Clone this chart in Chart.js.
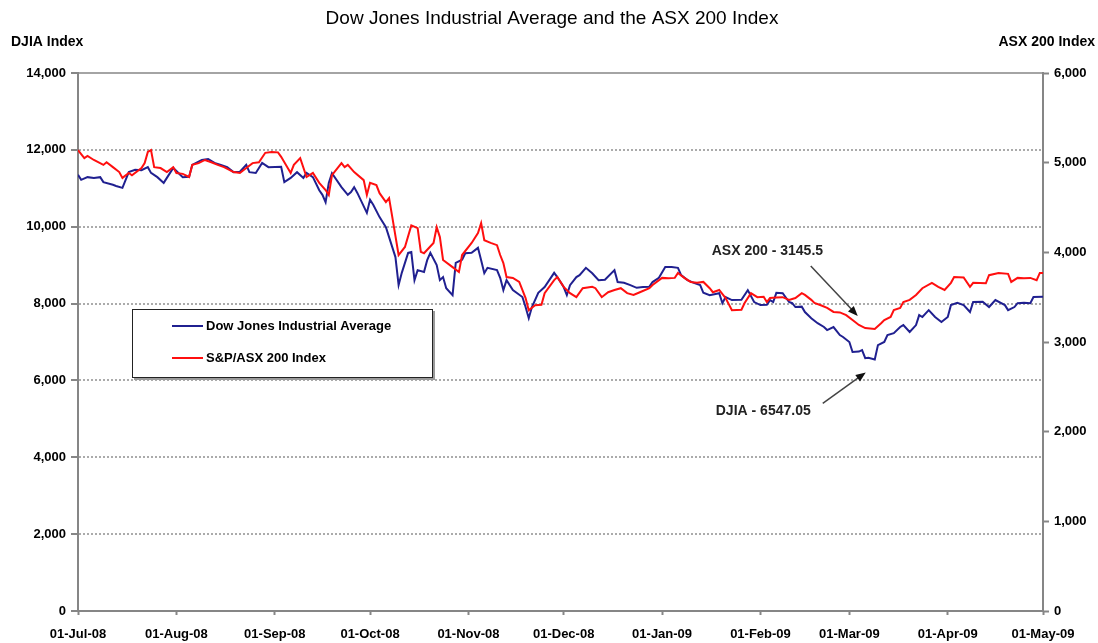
<!DOCTYPE html>
<html>
<head>
<meta charset="utf-8">
<title>Dow Jones Industrial Average and the ASX 200 Index</title>
<script src="https://cdn.jsdelivr.net/npm/chart.js@4.4.1/dist/chart.umd.min.js"></script>
<style>
  html, body { margin: 0; padding: 0; background: #fff; }
  #wrap { width: 1098px; height: 643px; }
</style>
</head>
<body>
<div id="wrap"><canvas id="chart" width="1098" height="643"></canvas></div>
<script>
// x values are days counted from 01-Jul-08
const monthDays = [0, 31, 62, 92, 123, 153, 184, 215, 243, 274, 304];
const monthLabels = ['01-Jul-08', '01-Aug-08', '01-Sep-08', '01-Oct-08', '01-Nov-08', '01-Dec-08',
                     '01-Jan-09', '01-Feb-09', '01-Mar-09', '01-Apr-09', '01-May-09'];

const djiaDays = [
  0, 1, 3, 5, 7, 8, 11, 12, 14, 16,
  18, 20, 22, 23, 25, 27, 30, 33, 35, 36,
  39, 41, 43, 45, 47, 49, 51, 53, 54, 56,
  57, 58, 60, 64, 65, 67, 69, 71, 72, 74,
  76, 77, 78, 79, 80, 83, 85, 86, 87, 88,
  91, 92, 93, 95, 97, 99, 100, 101, 102, 104,
  105, 106, 107, 109, 110, 111, 113, 114, 115, 116,
  118, 119, 121, 122, 124, 126, 127, 128, 129, 132,
  133, 134, 135, 137, 140, 141, 142, 143, 145, 147,
  150, 151, 153, 154, 155, 157, 158, 160, 162, 164,
  166, 169, 170, 172, 174, 176, 178, 180, 181, 183,
  185, 187, 189, 190, 192, 194, 196, 197, 199, 202,
  203, 204, 206, 209, 211, 213, 215, 217, 218, 219,
  220, 222, 224, 225, 226, 228, 229, 231, 233, 235,
  236, 238, 240, 241, 243, 244, 246, 247, 248, 249,
  251, 252, 254, 255, 257, 259, 260, 262, 264, 265,
  266, 268, 270, 272, 274, 275, 277, 279, 281, 282,
  285, 287, 289, 292, 293, 295, 296, 298, 300, 301,
  304
];
const djiaValues = [
  11350, 11220, 11290, 11270, 11290, 11160, 11090, 11060, 11010, 11420,
  11480, 11470, 11550, 11400, 11290, 11140, 11530, 11290, 11300, 11610,
  11740, 11760, 11660, 11610, 11550, 11420, 11430, 11610, 11420, 11400,
  11530, 11660, 11550, 11560, 11160, 11270, 11420, 11270, 11400, 11290,
  10950, 10830, 10640, 11140, 11390, 11030, 10830, 10900, 11030, 10880,
  10360, 10700, 10570, 10250, 9990, 9470, 9210, 8480, 8800, 9320,
  9340, 8610, 8870, 8820, 9130, 9320, 9000, 8610, 8690, 8400,
  8220, 9060, 9140, 9310, 9320, 9450, 9130, 8790, 8930, 8870,
  8670, 8350, 8610, 8350, 8170, 7910, 7620, 7910, 8280, 8430,
  8800, 8690, 8430, 8220, 8480, 8690, 8740, 8930, 8790, 8610,
  8620, 8870, 8560, 8540, 8480, 8410, 8430, 8440, 8560, 8670,
  8950, 8950, 8930, 8740, 8610, 8540, 8480, 8280, 8220, 8270,
  8010, 8170, 8090, 8100, 8350, 8040, 7960, 7970, 8090, 8040,
  8280, 8270, 8040, 8010, 7910, 7920, 7780, 7620, 7490, 7390,
  7310, 7390, 7180, 7130, 7000, 6740, 6750, 6790, 6580, 6590,
  6547.05, 6920, 7000, 7180, 7230, 7390, 7440, 7260, 7440, 7700,
  7650, 7830, 7650, 7520, 7650, 7960, 8020, 7960, 7780, 8040,
  8050, 7910, 8090, 7960, 7830, 7910, 8010, 8020, 8010, 8170,
  8180
];

const asxDays = [
  0, 2, 3, 5, 8, 9, 11, 13, 14, 16,
  17, 20, 21, 22, 23, 24, 26, 28, 30, 31,
  33, 35, 36, 38, 40, 42, 44, 46, 49, 51,
  53, 55, 57, 59, 61, 63, 64, 67, 68, 70,
  72, 74, 76, 78, 79, 80, 83, 84, 85, 87,
  90, 91, 92, 94, 95, 97, 98, 99, 101, 103,
  105, 107, 108, 109, 112, 113, 114, 115, 118, 120,
  121, 124, 126, 127, 128, 130, 132, 133, 134, 135,
  137, 139, 141, 142, 144, 146, 147, 150, 151, 153,
  155, 157, 159, 162, 163, 165, 167, 169, 171, 173,
  175, 177, 180, 181, 184, 186, 188, 189, 191, 193,
  195, 197, 199, 200, 202, 204, 206, 209, 210, 212,
  214, 216, 217, 218, 220, 222, 224, 226, 228, 229,
  231, 232, 234, 236, 238, 240, 242, 244, 246, 248,
  251, 253, 254, 256, 257, 259, 260, 262, 264, 266,
  269, 271, 273, 275, 276, 279, 281, 282, 286, 287,
  290, 293, 294, 296, 298, 300, 302, 303, 304
];
const asxValues = [
  5140, 5050, 5075, 5030, 4975, 5005, 4950, 4895, 4830, 4885,
  4860, 4940, 4995, 5120, 5140, 4950, 4940, 4895, 4950, 4885,
  4875, 4840, 4975, 4995, 5030, 5005, 4975, 4950, 4895, 4885,
  4940, 4995, 5005, 5110, 5120, 5115, 5065, 4885, 4975, 5050,
  4840, 4885, 4775, 4695, 4640, 4860, 4995, 4950, 4975, 4895,
  4805, 4640, 4775, 4750, 4660, 4560, 4605, 4395, 3970, 4060,
  4300, 4270, 4005, 3990, 4105, 4280, 4170, 3915, 3835, 3780,
  3970, 4105, 4215, 4325, 4135, 4105, 4080, 3970, 3880, 3725,
  3715, 3670, 3490, 3355, 3410, 3415, 3545, 3690, 3725, 3615,
  3545, 3500, 3600, 3615, 3600, 3500, 3555, 3580, 3600, 3545,
  3525, 3555, 3600, 3635, 3715, 3710, 3715, 3770, 3715, 3670,
  3660, 3670, 3600, 3555, 3580, 3490, 3355, 3360, 3435, 3545,
  3500, 3505, 3445, 3490, 3495, 3500, 3470, 3490, 3545, 3525,
  3470, 3435, 3410, 3380, 3335, 3330, 3300, 3245, 3190, 3155,
  3145.5, 3210, 3245, 3280, 3355, 3380, 3445, 3470, 3525, 3600,
  3660, 3615, 3580, 3660, 3725, 3720, 3615, 3660, 3655, 3745,
  3770, 3760, 3670, 3715, 3710, 3715, 3690, 3770, 3770
];

const FONT = '"Liberation Sans", Arial, sans-serif';
const GRID_GREY = '#ababab';
const AXIS_GREY = '#868686';
const DJIA_BLUE = '#202090';
const ASX_RED = '#ff0f0f';

Chart.defaults.font.family = FONT;
Chart.defaults.font.size = 13;
Chart.defaults.font.weight = 'bold';
Chart.defaults.color = '#000';

const toPoints = (days, values) => days.map((d, i) => ({x: d, y: values[i]}));
const fmt = v => v.toLocaleString('en-US');
const lowestIndex = values => values.indexOf(Math.min(...values));

const drawArrow = (ctx, x1, y1, x2, y2) => {
    const angle = Math.atan2(y2 - y1, x2 - x1);
    ctx.strokeStyle = '#444';
    ctx.lineWidth = 1.5;
    ctx.beginPath();
    ctx.moveTo(x1, y1);
    ctx.lineTo(x2 - 6 * Math.cos(angle), y2 - 6 * Math.sin(angle));
    ctx.stroke();
    ctx.fillStyle = '#111';
    ctx.beginPath();
    ctx.moveTo(x2, y2);
    ctx.lineTo(x2 - 10 * Math.cos(angle) + 4 * Math.sin(angle), y2 - 10 * Math.sin(angle) - 4 * Math.cos(angle));
    ctx.lineTo(x2 - 10 * Math.cos(angle) - 4 * Math.sin(angle), y2 - 10 * Math.sin(angle) + 4 * Math.cos(angle));
    ctx.closePath();
    ctx.fill();
}

const extras = {
    id: 'extras',
    beforeDatasetsDraw(chart) {
        // the top of the plot frame is a solid line
        const {ctx, chartArea} = chart;
        ctx.save();
        ctx.fillStyle = '#fff';
        ctx.fillRect(chartArea.left + 1, chartArea.top - 2, chartArea.width - 2, 4);
        ctx.strokeStyle = AXIS_GREY;
        ctx.lineWidth = 1.5;
        ctx.beginPath();
        ctx.moveTo(chartArea.left, chartArea.top);
        ctx.lineTo(chartArea.right, chartArea.top);
        ctx.stroke();
        ctx.restore();
    },
    afterDraw(chart) {
        const ctx = chart.ctx;
        ctx.save();

        // titles
        ctx.fillStyle = '#000';
        ctx.textBaseline = 'middle';
        ctx.textAlign = 'center';
        ctx.font = '19px ' + FONT;
        ctx.fillText('Dow Jones Industrial Average and the ASX 200 Index', 552, 19);
        ctx.font = 'bold 14px ' + FONT;
        ctx.textAlign = 'left';
        ctx.fillText('DJIA Index', 11, 42);
        ctx.textAlign = 'right';
        ctx.fillText('ASX 200 Index', 1095, 42);

        // legend box
        ctx.fillStyle = '#9a9a9a';
        ctx.fillRect(134, 311, 301, 69);
        ctx.fillStyle = '#fff';
        ctx.fillRect(132, 309, 301, 69);
        ctx.strokeStyle = '#222';
        ctx.lineWidth = 1;
        ctx.strokeRect(132.5, 309.5, 300, 68);
        ctx.font = 'bold 13px ' + FONT;
        ctx.textAlign = 'left';
        chart.data.datasets.forEach((ds, i) => {
            const y = 326 + i * 32;
            ctx.strokeStyle = ds.borderColor;
            ctx.lineWidth = 2;
            ctx.beginPath();
            ctx.moveTo(172, y);
            ctx.lineTo(203, y);
            ctx.stroke();
            ctx.fillStyle = '#000';
            ctx.fillText(ds.label, 206, y);
        });

        // call-outs on the lows
        ctx.font = 'bold 14px ' + FONT;
        ctx.fillStyle = '#222';
        const ai = lowestIndex(asxValues);
        const ap = chart.getDatasetMeta(1).data[ai];
        ctx.fillText('ASX 200 - ' + asxValues[ai], ap.x - 163, ap.y - 78);
        drawArrow(ctx, ap.x - 64, ap.y - 63, ap.x - 17, ap.y - 13);

        const di = lowestIndex(djiaValues);
        const dp = chart.getDatasetMeta(0).data[di];
        ctx.fillStyle = '#222';
        ctx.fillText('DJIA - ' + djiaValues[di].toFixed(2), dp.x - 159, dp.y + 52);
        drawArrow(ctx, dp.x - 52, dp.y + 44, dp.x - 9, dp.y + 13);

        ctx.restore();
    }
};

new Chart(document.getElementById('chart'), {
    type: 'line',
    data: {
        datasets: [
            {
                label: 'Dow Jones Industrial Average',
                data: toPoints(djiaDays, djiaValues),
                yAxisID: 'djia',
                borderColor: DJIA_BLUE,
                order: 1
            },
            {
                label: 'S&P/ASX 200 Index',
                data: toPoints(asxDays, asxValues),
                yAxisID: 'asx',
                borderColor: ASX_RED,
                order: 0
            }
        ]
    },
    options: {
        responsive: false,
        animation: false,
        events: [],
        layout: {padding: {top: 73, left: 0, right: 0, bottom: 0}},
        elements: {
            line: {borderWidth: 2, tension: 0},
            point: {radius: 0}
        },
        plugins: {
            legend: {display: false},
            tooltip: {enabled: false}
        },
        scales: {
            x: {
                type: 'linear',
                min: 0,
                max: 304,
                afterBuildTicks: (scale) => { scale.ticks = monthDays.map(v => ({value: v})); },
                afterFit: (scale) => { scale.height = 32; },
                ticks: {
                    callback: (v) => monthLabels[monthDays.indexOf(v)],
                    autoSkip: false,
                    maxRotation: 0,
                    padding: 12
                },
                grid: {drawOnChartArea: false, tickLength: 4, tickColor: AXIS_GREY, tickWidth: 2},
                border: {color: AXIS_GREY, width: 2}
            },
            djia: {
                position: 'left',
                min: 0,
                max: 14000,
                ticks: {stepSize: 2000, callback: fmt, padding: 5},
                afterFit: (scale) => { scale.width = 78; },
                grid: {color: GRID_GREY, lineWidth: 2, tickLength: 7, tickColor: AXIS_GREY, tickWidth: 2},
                border: {color: AXIS_GREY, width: 2, dash: [2, 2]}
            },
            asx: {
                position: 'right',
                min: 0,
                max: 6000,
                ticks: {stepSize: 1000, callback: fmt, padding: 5},
                afterFit: (scale) => { scale.width = 55; },
                grid: {drawOnChartArea: false, tickLength: 6, tickColor: AXIS_GREY, tickWidth: 2},
                border: {color: AXIS_GREY, width: 2}
            }
        }
    },
    plugins: [extras]
});
</script>
</body>
</html>
